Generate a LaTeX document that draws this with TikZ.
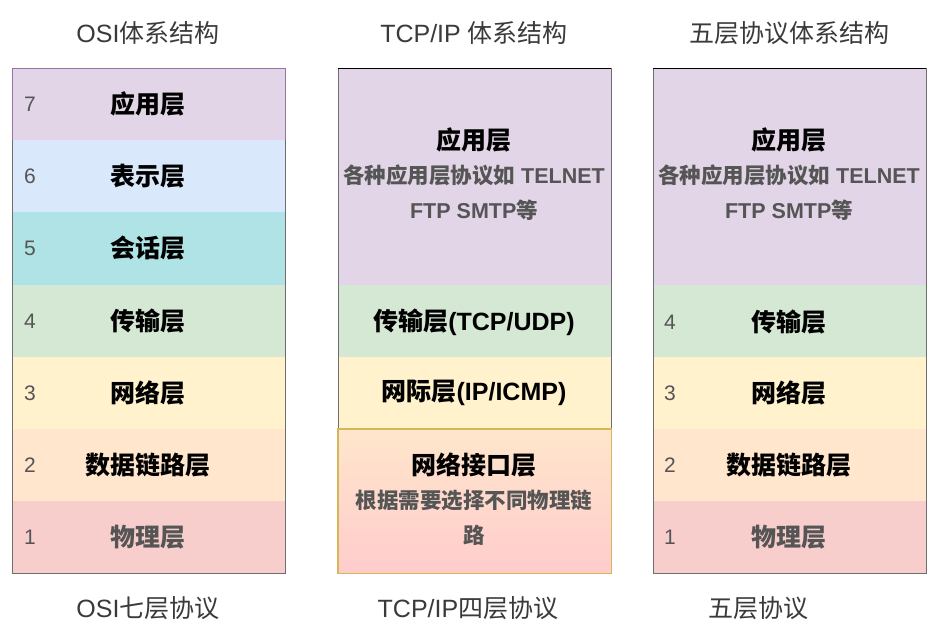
\documentclass[tikz,border=0pt]{standalone}
\usepackage{fontspec}
\setmainfont{Liberation Sans}
\newfontfamily\cjk{Noto Sans CJK SC}
\definecolor{cPurple}{HTML}{E1D5E7}
\definecolor{cBlue}{HTML}{DAE8FC}
\definecolor{cTeal}{HTML}{B0E3E6}
\definecolor{cGreen}{HTML}{D5E8D4}
\definecolor{cYellow}{HTML}{FFF2CC}
\definecolor{cOrange}{HTML}{FFE6CC}
\definecolor{cRed}{HTML}{F8CECC}
\definecolor{cPink}{HTML}{FFCCCC}
\definecolor{sPurple}{HTML}{9673A6}
\definecolor{sYellow}{HTML}{D6B656}
\definecolor{sGray}{HTML}{6E6E6E}
\definecolor{tGray}{HTML}{555555}
\definecolor{tTitle}{HTML}{3A3A3A}
\begin{document}
\begin{tikzpicture}[x=1pt,y=-1pt,
  cell/.style={rectangle,draw=none,inner sep=0pt,minimum width=273pt,anchor=north west},
  lbl/.style={inner sep=0pt,font=\fontsize{25}{28}\selectfont\bfseries\cjk,text=black},
  lblg/.style={inner sep=0pt,font=\fontsize{25}{28}\selectfont\bfseries\cjk,text=tGray},
  sub/.style={inner sep=0pt,font=\fontsize{21.5}{24}\selectfont\bfseries,text=tGray},
  subc/.style={inner sep=0pt,font=\fontsize{21.5}{24}\selectfont\bfseries\cjk,text=tGray},
  num/.style={inner sep=0pt,font=\fontsize{21}{24}\selectfont,text=tGray},
  ttl/.style={inner sep=0pt,font=\fontsize{25}{28}\selectfont,text=tTitle},
  edge/.style={line width=1pt}]
\useasboundingbox (0,0) rectangle (933,625);
\fill[white] (0,0) rectangle (933,625);

% ---------- column 1: OSI ----------
\node[cell,fill=cPurple,minimum height=72pt] (o7) at (12,68) {};
\node[cell,fill=cBlue,minimum height=72pt] (o6) at (12,140) {};
\node[cell,fill=cTeal,minimum height=73pt] (o5) at (12,212) {};
\node[cell,fill=cGreen,minimum height=72pt] (o4) at (12,285) {};
\node[cell,fill=cYellow,minimum height=72pt] (o3) at (12,357) {};
\node[cell,fill=cOrange,minimum height=72pt] (o2) at (12,429) {};
\node[cell,fill=cRed,minimum height=72pt] (o1) at (12,501) {};
\draw[edge,sGray] (o6.north west) -- (o1.south west) -- (o1.south east) -- (o6.north east);
\draw[edge,sPurple] (o7.south west) -- (o7.north west) -- (o7.north east) -- (o7.south east);

\node[num] (on7) at (30,104) {7};
\node[num] (on6) at (30,176) {6};
\node[num] (on5) at (30,248.5) {5};
\node[num] (on4) at (30,321) {4};
\node[num] (on3) at (30,393) {3};
\node[num] (on2) at (30,465) {2};
\node[num] (on1) at (30,537) {1};
\node[lbl] (ol7) at (148,104) {应用层};
\node[lbl] (ol6) at (148,176) {表示层};
\node[lbl] (ol5) at (148,248.5) {会话层};
\node[lbl] (ol4) at (148,321) {传输层};
\node[lbl] (ol3) at (148,393) {网络层};
\node[lbl] (ol2) at (148,465) {数据链路层};
\node[lblg] (ol1) at (148,537) {物理层};

\node[ttl] (ot) at (148,33) {OSI{\cjk 体系结构}};
\node[ttl] (ob) at (148,608) {OSI{\cjk 七层协议}};

% ---------- column 2: TCP/IP ----------
\node[cell,fill=cPurple,minimum height=217pt] (t4) at (338,68) {};
\node[cell,fill=cGreen,minimum height=72pt] (t3) at (338,285) {};
\node[cell,fill=cYellow,minimum height=72pt] (t2) at (338,357) {};
\node[cell,top color=cOrange,bottom color=cPink,minimum height=144pt] (t1) at (338,429) {};
\draw[edge,sGray] (t2.south west) -- (t4.north west);
\draw[edge,sGray] (t2.south east) -- (t4.north east);
\draw[edge,black] (t4.north west) -- (t4.north east);
\draw[line width=1.3pt,sYellow] (t1.north west) rectangle (t1.south east);

\node[lbl] (tl4) at (474,140) {应用层};
\node[sub] (ts4a) at (474,175) {{\cjk 各种应用层协议如} TELNET};
\node[sub] (ts4b) at (474,210) {FTP SMTP{\cjk 等}};
\node[lbl] (tl3) at (474,322) {传输层{\fontspec{Liberation Sans}(TCP/UDP)}};
\node[lbl] (tl2) at (474,393) {网际层{\fontspec{Liberation Sans}(IP/ICMP)}};
\node[lbl] (tl1) at (474,465) {网络接口层};
\node[subc] (ts1a) at (474,500) {根据需要选择不同物理链};
\node[subc] (ts1b) at (474,535) {路};

\node[ttl] (tt) at (474,33) {TCP/IP {\cjk 体系结构}};
\node[ttl] (tb) at (468,608) {TCP/IP{\cjk 四层协议}};

% ---------- column 3: five layers ----------
\node[cell,fill=cPurple,minimum height=217pt] (f5) at (653,68) {};
\node[cell,fill=cGreen,minimum height=72pt] (f4) at (653,285) {};
\node[cell,fill=cYellow,minimum height=72pt] (f3) at (653,357) {};
\node[cell,fill=cOrange,minimum height=72pt] (f2) at (653,429) {};
\node[cell,fill=cRed,minimum height=72pt] (f1) at (653,501) {};
\draw[edge,sGray] (f5.north west) -- (f1.south west) -- (f1.south east) -- (f5.north east);
\draw[edge,black] (f5.north west) -- (f5.north east);

\node[lbl] (fl5) at (789,140) {应用层};
\node[sub] (fs5a) at (789,175) {{\cjk 各种应用层协议如} TELNET};
\node[sub] (fs5b) at (789,210) {FTP SMTP{\cjk 等}};
\node[num] (fn4) at (670,322) {4};
\node[num] (fn3) at (670,393) {3};
\node[num] (fn2) at (670,465) {2};
\node[num] (fn1) at (670,537) {1};
\node[lbl] (fl4) at (789,322) {传输层};
\node[lbl] (fl3) at (789,393) {网络层};
\node[lbl] (fl2) at (789,465) {数据链路层};
\node[lblg] (fl1) at (789,537) {物理层};

\node[ttl] (ft) at (789,33) {\cjk 五层协议体系结构};
\node[ttl] (fb) at (758,608) {\cjk 五层协议};
\end{tikzpicture}
\end{document}
